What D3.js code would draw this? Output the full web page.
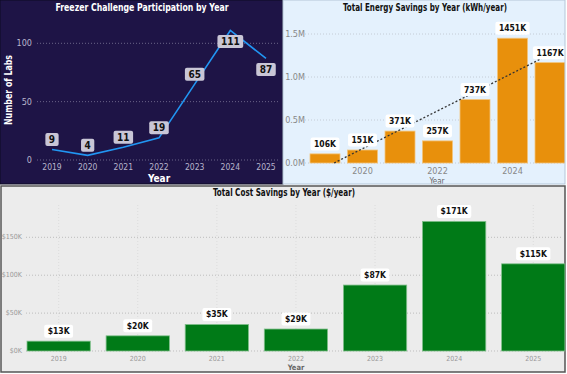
<!DOCTYPE html>
<html lang="en">
<head>
  <meta charset="UTF-8">
  <script src="https://d3js.org/d3.v7.min.js"></script>
  <style>
    body { margin: 0; background: #fff; }
    text { font-family: "Liberation Sans Narrow", "DejaVu Sans Condensed", Arial, sans-serif; }
    .title { font-weight: bold; font-size: 10.5px; }
    .lbl { font-weight: bold; }
  </style>
</head>
<body>
  <script>
    const years = [2019, 2020, 2021, 2022, 2023, 2024, 2025];
    const labs = [9, 4, 11, 19, 65, 111, 87];
    const energyK = [106, 151, 371, 257, 737, 1451, 1167];
    const costK = [13, 20, 35, 29, 87, 171, 115];
    const labTicks = [0, 50, 100];
    const energyTicks = [0, 500, 1000, 1500];
    const energyYearTicks = [2020, 2022, 2024];
    const costTicks = [0, 50, 100, 150];

    const width = 567, height = 374;
    const svg = d3.select("body").append("svg").attr("width", width).attr("height", height);

    // label with rounded box behind it
    function boxLabel(g, x, y, txt, size, fill) {
      const t = g.append("text").attr("class", "lbl").attr("x", x).attr("y", y)
        .attr("text-anchor", "middle").attr("dominant-baseline", "central")
        .attr("font-size", size).attr("fill", "#111").text(txt);
      const w = t.node().getComputedTextLength() + 7;
      g.insert("rect", "text:last-child")
        .attr("x", x - w / 2).attr("y", y - 6.5).attr("width", w).attr("height", 13)
        .attr("rx", 2).attr("fill", fill);
    }
    function title(g, x, y, txt, len, color) {
      g.append("text").attr("class", "title").attr("x", x - len / 2).attr("y", y)
        .attr("textLength", len).attr("lengthAdjust", "spacingAndGlyphs")
        .attr("fill", color).text(txt);
    }

    // ---------- panel 1: participation line ----------
    const p1 = svg.append("g");
    p1.append("rect").attr("x", 0).attr("y", 0).attr("width", 283).attr("height", 184)
      .attr("fill", "#1e1446").attr("stroke", "#0d0a22");
    title(p1, 142, 11, "Freezer Challenge Participation by Year", 173, "#fff");

    const x1 = d3.scalePoint().domain(years).range([52, 266]);
    const y1 = d3.scaleLinear().domain([0, 100]).range([160, 43.3]);

    p1.selectAll(".g1").data(labTicks).join("line")
      .attr("x1", 37).attr("x2", 280).attr("y1", d => y1(d)).attr("y2", d => y1(d))
      .attr("stroke", "#6a6488").attr("stroke-dasharray", "1,2");
    p1.selectAll(".yt1").data(labTicks).join("text")
      .attr("x", 32).attr("y", d => y1(d)).attr("text-anchor", "end").attr("dominant-baseline", "central")
      .attr("font-size", 9).attr("fill", "#b8b4cc").text(d => d);
    p1.selectAll(".xt1").data(years).join("text")
      .attr("x", d => x1(d)).attr("y", 170).attr("text-anchor", "middle")
      .attr("font-size", 8.5).attr("fill", "#b8b4cc").text(d => d);
    p1.append("text").attr("class", "lbl").attr("x", 159).attr("y", 182).attr("text-anchor", "middle")
      .attr("font-size", 10).attr("fill", "#fff").text("Year");
    p1.append("text").attr("class", "lbl").attr("transform", "translate(12,90) rotate(-90)")
      .attr("x", -35).attr("textLength", 70).attr("lengthAdjust", "spacingAndGlyphs")
      .attr("font-size", 10).attr("fill", "#fff").text("Number of Labs");

    p1.append("path").datum(labs)
      .attr("d", d3.line().x((d, i) => x1(years[i])).y(d => y1(d)))
      .attr("fill", "none").attr("stroke", "#2196f3").attr("stroke-width", 1.6);
    labs.forEach((v, i) => {
      const below = v > 80;
      boxLabel(p1, x1(years[i]), below ? y1(v) + 11 : y1(v) - 10, v, 10, "#c9c6d6");
    });

    // ---------- panel 2: energy bars ----------
    const p2 = svg.append("g");
    p2.append("clipPath").attr("id", "c2").append("rect")
      .attr("x", 283).attr("y", 0).attr("width", 282).attr("height", 184);
    p2.append("rect").attr("x", 283).attr("y", 0).attr("width", 282).attr("height", 184)
      .attr("fill", "#e4f1fd");
    title(p2, 425, 11, "Total Energy Savings by Year (kWh/year)", 164, "#111");

    const x2 = d3.scaleBand().domain(years).range([306.25, 568.75]).paddingInner(0.2).paddingOuter(0.1);
    const y2 = d3.scaleLinear().domain([0, 1500]).range([163, 34]);

    p2.selectAll(".g2").data(energyTicks).join("line")
      .attr("x1", 305).attr("x2", 565).attr("y1", d => y2(d)).attr("y2", d => y2(d))
      .attr("stroke", "#c4ccd6").attr("stroke-dasharray", "1,2");
    p2.selectAll(".yt2").data(energyTicks).join("text")
      .attr("x", 305).attr("y", d => y2(d)).attr("text-anchor", "end").attr("dominant-baseline", "central")
      .attr("font-size", 9).attr("fill", "#888").text(d => (d / 1000).toFixed(1) + "M");
    p2.selectAll(".xt2").data(energyYearTicks).join("text")
      .attr("x", d => x2(d) + x2.bandwidth() / 2).attr("y", 174).attr("text-anchor", "middle")
      .attr("font-size", 9).attr("fill", "#888").text(d => d);
    p2.append("text").attr("x", 437).attr("y", 184).attr("text-anchor", "middle")
      .attr("font-size", 8).attr("fill", "#666").text("Year");

    p2.append("g").attr("clip-path", "url(#c2)").selectAll("rect").data(energyK).join("rect")
      .attr("x", (d, i) => x2(years[i])).attr("width", x2.bandwidth())
      .attr("y", d => y2(d)).attr("height", d => y2(0) - y2(d))
      .attr("fill", "#e8900c").attr("stroke", "#f3c47a").attr("stroke-width", 0.8);

    // linear trend through the bars
    const mx = d3.mean(energyK, (d, i) => i), my = d3.mean(energyK);
    const slope = d3.sum(energyK, (d, i) => (i - mx) * (d - my)) / d3.sum(energyK, (d, i) => (i - mx) * (i - mx));
    const icpt = my - slope * mx;
    const cx = i => x2(years[0]) + x2.bandwidth() / 2 + i * x2.step();
    const i0 = Math.max(0, -icpt / slope);
    p2.append("line")
      .attr("x1", cx(i0)).attr("y1", y2(icpt + slope * i0))
      .attr("x2", cx(6)).attr("y2", y2(icpt + slope * 6))
      .attr("stroke", "#333").attr("stroke-width", 1.3).attr("stroke-dasharray", "2,2");

    energyK.forEach((v, i) => {
      boxLabel(p2, x2(years[i]) + x2.bandwidth() / 2, y2(v) - 10, v + "K", 8.5, "#fff");
    });
    p2.append("rect").attr("x", 283).attr("y", 0).attr("width", 282).attr("height", 184)
      .attr("fill", "none").attr("stroke", "#b4c6d8");

    // ---------- panel 3: cost bars ----------
    const p3 = svg.append("g");
    p3.append("rect").attr("x", 1).attr("y", 186).attr("width", 564).attr("height", 186)
      .attr("fill", "#ececec").attr("stroke", "#555").attr("stroke-width", 1.5);
    title(p3, 284, 196, "Total Cost Savings by Year ($/year)", 142, "#111");

    const x3 = d3.scaleBand().domain(years).range([19.1, 572.8]).paddingInner(0.2).paddingOuter(0.1);
    const y3 = d3.scaleLinear().domain([0, 150]).range([351, 237.3]);

    p3.selectAll(".v3").data(years).join("line")
      .attr("x1", d => x3(d) + x3.bandwidth() / 2).attr("x2", d => x3(d) + x3.bandwidth() / 2)
      .attr("y1", 205).attr("y2", 351).attr("stroke", "#dcdcdc").attr("stroke-dasharray", "1,2");
    p3.selectAll(".g3").data(costTicks).join("line")
      .attr("x1", 26).attr("x2", 563).attr("y1", d => y3(d)).attr("y2", d => y3(d))
      .attr("stroke", "#bdbdbd").attr("stroke-dasharray", "1,2");
    p3.selectAll(".yt3").data(costTicks).join("text")
      .attr("x", 22).attr("y", d => y3(d)).attr("text-anchor", "end").attr("dominant-baseline", "central")
      .attr("font-size", 7).attr("fill", "#999").text(d => "$" + d + "K");
    p3.selectAll(".xt3").data(years).join("text")
      .attr("x", d => x3(d) + x3.bandwidth() / 2).attr("y", 361).attr("text-anchor", "middle")
      .attr("font-size", 7).attr("fill", "#999").text(d => d);
    p3.append("text").attr("class", "lbl").attr("x", 296).attr("y", 370).attr("text-anchor", "middle")
      .attr("font-size", 7.5).attr("fill", "#666").text("Year");

    p3.selectAll(".bar3").data(costK).join("rect")
      .attr("x", (d, i) => x3(years[i])).attr("width", x3.bandwidth())
      .attr("y", d => y3(d)).attr("height", d => y3(0) - y3(d))
      .attr("fill", "#007a17").attr("stroke", "#7fbf8a").attr("stroke-width", 0.8);
    costK.forEach((v, i) => {
      boxLabel(p3, x3(years[i]) + x3.bandwidth() / 2, y3(v) - 10, "$" + v + "K", 8.5, "#fff");
    });
  </script>
</body>
</html>
